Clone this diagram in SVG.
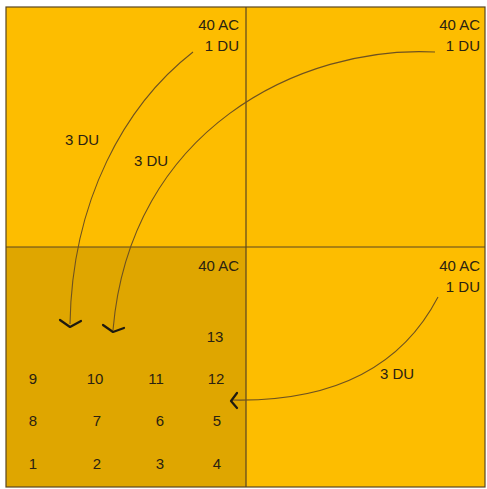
<svg xmlns="http://www.w3.org/2000/svg" width="487" height="489" viewBox="0 0 487 489">
<defs>
<style>
.q{fill:#FDBD00;}
.qd{fill:#DFA600;}
.t{font-family:"Liberation Sans",Arial,sans-serif;font-size:15px;fill:#2a2212;}
.r{text-anchor:end;}
.m{text-anchor:middle;}
.c{fill:none;stroke:#6e5220;stroke-width:1.1;}
.h{fill:none;stroke:#1e1a10;stroke-width:2.2;stroke-linecap:round;stroke-linejoin:round;}
.g{fill:none;stroke:#5a4620;stroke-width:1.2;}
</style>
</defs>
<rect x="0" y="0" width="487" height="489" fill="#ffffff"/>
<g id="q-top-left">
<rect class="q" x="6" y="7" width="240" height="240"/>
<text class="t r" x="239" y="30">40 AC</text>
<text class="t r" x="239" y="51">1 DU</text>
</g>
<g id="q-top-right">
<rect class="q" x="246" y="7" width="239" height="240"/>
<text class="t r" x="480" y="30">40 AC</text>
<text class="t r" x="480" y="51">1 DU</text>
</g>
<g id="q-bottom-left">
<rect class="qd" x="6" y="247" width="240" height="240"/>
<text class="t r" x="239" y="271">40 AC</text>
<text class="t m" x="215" y="342">13</text>
<text class="t m" x="33" y="384">9</text>
<text class="t m" x="95" y="384">10</text>
<text class="t m" x="156" y="384">11</text>
<text class="t m" x="216" y="384">12</text>
<text class="t m" x="33" y="426">8</text>
<text class="t m" x="97" y="426">7</text>
<text class="t m" x="160" y="426">6</text>
<text class="t m" x="217" y="426">5</text>
<text class="t m" x="33" y="469">1</text>
<text class="t m" x="97" y="469">2</text>
<text class="t m" x="160" y="469">3</text>
<text class="t m" x="217" y="469">4</text>
</g>
<g id="q-bottom-right">
<rect class="q" x="246" y="247" width="239" height="240"/>
<text class="t r" x="480" y="271">40 AC</text>
<text class="t r" x="480" y="292">1 DU</text>
</g>
<g id="grid">
<rect class="g" x="6" y="7" width="479" height="480"/>
<line class="g" x1="246" y1="7" x2="246" y2="487"/>
<line class="g" x1="6" y1="247" x2="485" y2="247"/>
</g>
<g id="connectors">
<path class="c" d="M193,52 C125,105 72,200 70,324"/>
<polyline class="h" points="60,320 70,327 81,321"/>
<path class="c" d="M435,52 C300,45 130,130 113,330"/>
<polyline class="h" points="103,325 113,332 124,328"/>
<path class="c" d="M438,297 C400,370 330,402 232,400"/>
<polyline class="h" points="237,393 231,401 237,408"/>
<text class="t" x="65" y="145">3 DU</text>
<text class="t" x="134" y="166">3 DU</text>
<text class="t" x="380" y="379">3 DU</text>
</g>
</svg>
